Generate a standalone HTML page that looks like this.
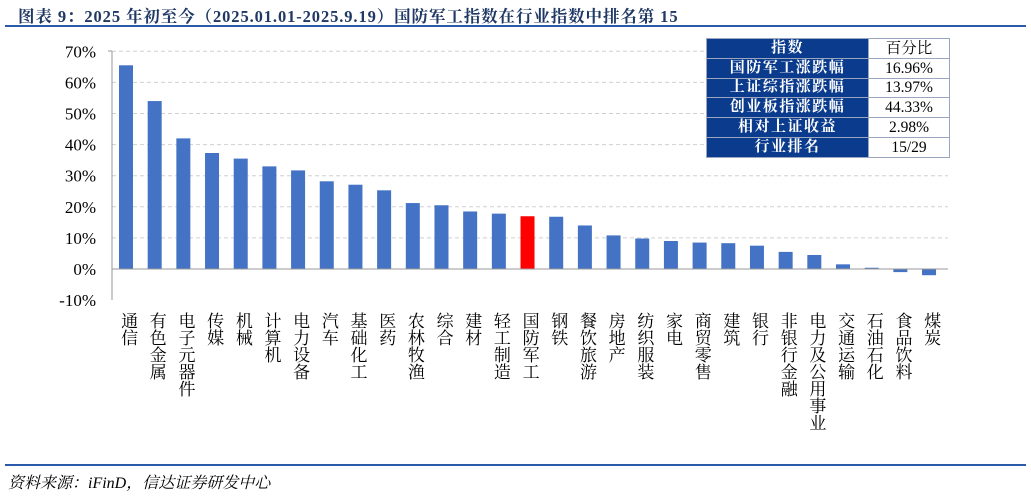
<!DOCTYPE html>
<html><head><meta charset="utf-8"><style>
body{margin:0;width:1031px;height:503px;background:#fff;overflow:hidden;position:relative;font-family:"Liberation Serif","Noto Serif CJK SC",serif}
.t{position:absolute;left:18px;top:3px;font-size:16.5px;font-weight:bold;color:#1f3864;letter-spacing:0.9px;white-space:nowrap}
.hl{position:absolute;left:5px;width:1021px;height:2px;background:#2b5aa8}
.src{position:absolute;left:8px;top:470px;font-size:16px;font-style:italic;color:#000}
table{position:absolute;left:706px;top:38px;border-collapse:collapse;font-size:15px;table-layout:fixed}
tr{height:19.8px}
td{height:18.8px;line-height:17px;padding:0;text-align:center;border:1px solid #9aa6bd;overflow:hidden;white-space:nowrap}
td.l{width:161px;background:#0b3b8c;color:#fff;font-weight:bold;letter-spacing:1.5px}
td.r{width:80px;background:#fff;color:#000;font-size:15.5px}
</style></head><body>
<div class="t">图表 9：2025 年初至今（2025.01.01-2025.9.19）国防军工指数在行业指数中排名第 15</div>
<div class="hl" style="top:25px"></div>
<svg id="s" width="1031" height="503" style="position:absolute;left:0;top:0" font-family="Liberation Serif, Noto Serif CJK SC, serif"></svg>
<table>
<tr><td class="l">指数</td><td class="r">百分比</td></tr>
<tr><td class="l">国防军工涨跌幅</td><td class="r">16.96%</td></tr>
<tr><td class="l">上证综指涨跌幅</td><td class="r">13.97%</td></tr>
<tr><td class="l">创业板指涨跌幅</td><td class="r">44.33%</td></tr>
<tr><td class="l">相对上证收益</td><td class="r">2.98%</td></tr>
<tr><td class="l">行业排名</td><td class="r">15/29</td></tr>
</table>
<div class="hl" style="top:464px"></div>
<div class="src">资料来源：iFinD，信达证券研发中心</div>
<script>
var s=document.getElementById('s'),h='';
var z=269,u=3.11;
for(var i=-1;i<=7;i++){var y=z-i*10*u;
 if(i>-1&&i<=7)h+='<line x1="112" x2="948" y1="'+y+'" y2="'+y+'" stroke="#d0d0d0" stroke-dasharray="4,3"/>';
 h+='<text x="96" y="'+(y+6)+'" font-size="17" text-anchor="end">'+(i*10)+'%</text>';}
h+='<line x1="112" x2="112" y1="51" y2="300" stroke="#999"/>';
h+='<line x1="108" x2="112" y1="51" y2="51" stroke="#999"/>';
var d=[["通信",65.5],["有色金属",54],["电子元器件",42],["传媒",37.3],["机械",35.5],["计算机",33],["电力设备",31.7],["汽车",28.2],["基础化工",27.1],["医药",25.3],["农林牧渔",21.2],["综合",20.5],["建材",18.5],["轻工制造",17.8],["国防军工",16.96],["钢铁",16.8],["餐饮旅游",14],["房地产",10.8],["纺织服装",9.8],["家电",9],["商贸零售",8.5],["建筑",8.3],["银行",7.5],["非银行金融",5.5],["电力及公用事业",4.5],["交通运输",1.5],["石油石化",0.4],["食品饮料",-1],["煤炭",-2]];
d.forEach(function(e,k){var c=126+k*28.68,v=e[1],y=v>=0?z-v*u:z,hh=Math.abs(v)*u;
 h+='<rect x="'+(c-7)+'" y="'+y+'" width="14" height="'+hh+'" fill="'+(k==14?'#ff0000':'#4472c4')+'"/>';
 h+='<text x="'+c+'" y="312" font-size="17" writing-mode="tb" glyph-orientation-vertical="0" style="writing-mode:vertical-rl;text-orientation:upright" text-anchor="start" dominant-baseline="middle">'+e[0]+'</text>';});
h+='<line x1="112" x2="948" y1="'+z+'" y2="'+z+'" stroke="#999"/>';
s.innerHTML=h;
</script>
</body></html>
